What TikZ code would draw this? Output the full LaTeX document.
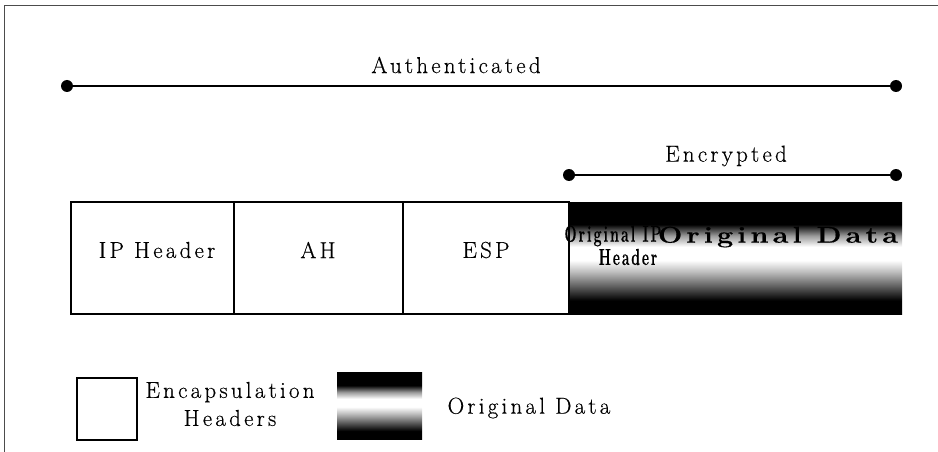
\documentclass[tikz,border=0pt]{standalone}
\usepackage{fontspec}
\setmainfont{Latin Modern Roman}[LetterSpace=14, FakeBold=0.4]
\newcommand{\origword}{O\kern.14em r\kern.14em i\kern.14em g\kern.14em i\kern.14em n\kern.14em a\kern.14em l}
\pgfdeclareverticalshading{origdata}{100bp}{%
  color(0bp)=(black); color(25bp)=(black); color(31bp)=(black);
  color(37bp)=(black!65); color(44bp)=(black!25); color(49bp)=(white);
  color(55bp)=(white); color(60bp)=(black!40); color(65bp)=(black);
  color(75bp)=(black); color(100bp)=(black)}
\tikzset{
  lbl/.style={font=\fontsize{23}{26}\selectfont, inner sep=0pt},
  blbl/.style={font=\fontsize{23}{26}\selectfont\bfseries, inner sep=0pt},
  hbox/.style={draw=black, line width=1.6pt},
  span/.style={line width=1.4pt},
  dot/.style={circle, fill=black, inner sep=0pt, minimum size=12pt}
}
\begin{document}
\begin{tikzpicture}[x=1pt,y=-1pt]
\useasboundingbox (0,0) rectangle (938,452);
% frame
\draw[black!70, line width=0.8pt] (4,452) -- (4,5) -- (938,5);
% authenticated
\node[dot] (a1) at (67,86) {};
\node[dot] (a2) at (896,86) {};
\draw[span] (a1) -- (a2);
\node[lbl] (auth) at (456,65) {Authenticated};
% encrypted
\node[dot] (e1) at (569,175) {};
\node[dot] (e2) at (896,175) {};
\draw[span] (e1) -- (e2);
\node[lbl] (enc) at (726,156) {Encrypted};
% boxes
\shade[shading=origdata] (569,202) rectangle (902,314);
\draw[hbox] (71,202) rectangle (234,314);
\draw[hbox] (234,202) rectangle (403,314);
\draw[hbox] (403,202) rectangle (569,314);
\node[lbl] (ip) at (157,250) {IP Header};
\node[lbl] (ah) at (318,250) {AH};
\node[lbl] (esp) at (486,250) {ESP};
\node[blbl] (oip) at (613,236) {\scalebox{0.62}[1]{\origword\ IP}};
\node[blbl] (hdr) at (628,257) {\scalebox{0.6}[1]{Header}};
\node[blbl] (odat) at (778,237) {\scalebox{1.26}[1]{\origword\ Data}};
% legend
\draw[hbox] (77,378) rectangle (137,440);
\node[lbl, align=center] (encap) at (230,404) {Encapsulation\\[2pt]Headers};
\shade[shading=origdata] (337,372) rectangle (422,439);
\node[lbl] (leg) at (529,408) {\origword\ Data};
\end{tikzpicture}
\end{document}
